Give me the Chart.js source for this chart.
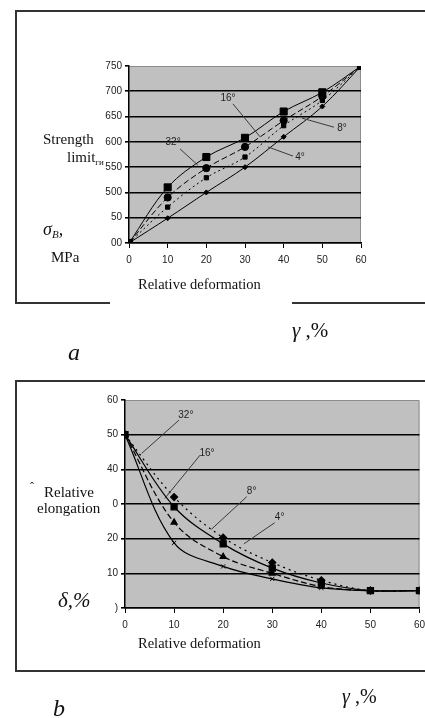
<!DOCTYPE html>
<html><head><meta charset="utf-8">
<script src="https://cdn.jsdelivr.net/npm/chart.js@4"></script>
<style>
body{margin:0;background:#fff;width:425px;height:718px;overflow:hidden;position:relative;font-family:"Liberation Serif",serif;color:#111}
.t{position:absolute;white-space:nowrap;line-height:1;z-index:3}
canvas{position:absolute;left:0;z-index:1}
.h{position:absolute;background:#333;height:1.5px;z-index:2}
.v{position:absolute;background:#333;width:1.5px;z-index:2}
</style></head><body>
<!-- frame a -->
<div class="h" style="left:15px;top:10px;width:410px"></div>
<div class="v" style="left:15px;top:10px;height:292px"></div>
<div class="h" style="left:15px;top:302px;width:95px"></div>
<div class="h" style="left:292px;top:302px;width:133px"></div>
<!-- frame b -->
<div class="h" style="left:15px;top:380px;width:410px"></div>
<div class="v" style="left:15px;top:380px;height:290px"></div>
<div class="h" style="left:15px;top:670px;width:410px"></div>

<canvas id="ca" width="425" height="360" style="top:0"></canvas>
<canvas id="cb" width="425" height="358" style="top:360px"></canvas>

<!-- texts a -->
<div class="t" style="left:43px;top:132px;font-size:15px">Strength</div>
<div class="t" style="left:67px;top:150px;font-size:15px">limit<span style="font-size:9px;position:relative;top:3px">ги</span></div>
<div class="t" style="left:43px;top:220px;font-size:18px;font-style:italic">σ<span style="font-size:11px;position:relative;top:3px">B</span>,</div>
<div class="t" style="left:51px;top:250px;font-size:15px">MPa</div>
<div class="t" style="left:138px;top:277px;font-size:14.5px">Relative deformation</div>
<div class="t" style="left:292px;top:320px;font-size:21px"><i>γ</i> ,%</div>
<div class="t" style="left:68px;top:340px;font-size:24px;font-style:italic">a</div>

<!-- texts b -->
<div class="t" style="left:30px;top:481px;font-size:12px">ˆ</div>
<div class="t" style="left:44px;top:485px;font-size:15px">Relative</div>
<div class="t" style="left:37px;top:501px;font-size:15px">elongation</div>
<div class="t" style="left:58px;top:590px;font-size:21px;font-style:italic">δ,%</div>
<div class="t" style="left:138px;top:636px;font-size:14.5px">Relative deformation</div>
<div class="t" style="left:342px;top:686px;font-size:20px"><i>γ</i> ,%</div>
<div class="t" style="left:53px;top:696px;font-size:24px;font-style:italic">b</div>

<script>
// ---------- data ----------
const deformation = [0, 10, 20, 30, 40, 50, 60];

// chart a : strength limit, MPa
const strength32 = [400, 510, 570, 608, 660, 698, 750];
const strength16 = [400, 490, 548, 590, 642, 690, 750];
const strength8  = [400, 471, 529, 570, 632, 682, 750];
const strength4  = [400, 449, 500, 550, 610, 670, 750];
const yTickValuesA = [400, 450, 500, 550, 600, 650, 700, 750];
const yTickLabelsA = ["00", "50", "500", "550", "600", "650", "700", "750"];

// chart b : relative elongation, %
const elong32 = [50, 32, 20.3, 13.1, 8, 5, 5];
const elong16 = [50, 29.2, 18.5, 11.5, 7.2, 5, 5];
const elong8  = [50, 24.7, 14.8, 10, 6.2, 5, 5];
const elong4  = [50, 18.8, 12, 8.4, 5.8, 5, 5];
const yTickValuesB = [0, 10, 20, 30, 40, 50, 60];
const yTickLabelsB = [")", "10", "20", "0", "40", "50", "60"];
const xTickLabels = ["0", "10", "20", "30", "40", "50", "60"];

// angle labels with leader lines (data coordinates)
const leadersA = [
  {text: "32°", at: [11.4, 600], from: [13.2, 586], to: [17.8, 554]},
  {text: "16°", at: [25.6, 686], from: [26.9, 675], to: [33.9, 610]},
  {text: "8°",  at: [55.1, 627], from: [53.0, 629], to: [44.7, 647]},
  {text: "4°",  at: [44.2, 570], from: [42.4, 572], to: [35.9, 590]}
];
const leadersB = [
  {text: "32°", at: [12.4, 55.6], from: [11.0, 54.2], to: [3.4, 44.6]},
  {text: "16°", at: [16.7, 44.7], from: [15.3, 44.1], to: [8.1, 31.6]},
  {text: "8°",  at: [25.8, 33.8], from: [24.8, 32.1], to: [17.6, 22.7]},
  {text: "4°",  at: [31.5, 26.2], from: [30.5, 24.6], to: [24.2, 18.5]}
];

// ---------- helpers ----------
const xy = ys => deformation.map((x, i) => ({x, y: ys[i]}));
Chart.defaults.font.family = '"Liberation Sans", Arial, sans-serif';
Chart.defaults.font.size = 10;
Chart.defaults.color = '#222';

const bgPlugin = {
  id: 'bgArea',
  beforeDraw(chart) {
    const {ctx, chartArea: a} = chart;
    ctx.save();
    ctx.fillStyle = '#c0c0c0';
    ctx.fillRect(a.left, a.top, a.right - a.left, a.bottom - a.top);
    ctx.strokeStyle = '#8c8c8c';
    ctx.lineWidth = 1;
    ctx.beginPath();
    ctx.moveTo(a.left, a.top + 0.5);
    ctx.lineTo(a.right - 0.5, a.top + 0.5);
    ctx.lineTo(a.right - 0.5, a.bottom);
    ctx.stroke();
    ctx.restore();
  }
};
const leaderPlugin = {
  id: 'leaders',
  afterDatasetsDraw(chart, args, opts) {
    const {ctx} = chart, x = chart.scales.x, y = chart.scales.y;
    ctx.save();
    ctx.strokeStyle = '#3a3a3a';
    ctx.lineWidth = 1;
    ctx.fillStyle = '#222';
    ctx.font = '10px "Liberation Sans", Arial, sans-serif';
    ctx.textAlign = 'center';
    ctx.textBaseline = 'middle';
    (opts.items || []).forEach(it => {
      ctx.beginPath();
      ctx.moveTo(x.getPixelForValue(it.from[0]), y.getPixelForValue(it.from[1]));
      ctx.lineTo(x.getPixelForValue(it.to[0]), y.getPixelForValue(it.to[1]));
      ctx.stroke();
      ctx.fillText(it.text, x.getPixelForValue(it.at[0]), y.getPixelForValue(it.at[1]));
    });
    ctx.restore();
  }
};

function makeChart(id, datasets, yMin, yMax, yStep, yVals, yLabels, yWidth, padding, leaders) {
  return new Chart(document.getElementById(id), {
    type: 'line',
    data: {datasets},
    options: {
      responsive: false, animation: false,
      layout: {padding},
      plugins: {legend: {display: false}, tooltip: {enabled: false}, leaders: {items: leaders}},
      scales: {
        x: {
          type: 'linear', min: 0, max: 60,
          afterFit(s) { s.height = 30; s.paddingLeft = 0; s.paddingRight = 0; },
          ticks: {stepSize: 10, padding: 6, maxRotation: 0,
            callback: (v) => { const i = deformation.indexOf(v); return i >= 0 ? xTickLabels[i] : ''; }},
          grid: {drawOnChartArea: false, drawTicks: true, tickLength: 5, tickColor: '#000', color: '#000'},
          border: {display: true, color: '#000', width: 1.5}
        },
        y: {
          type: 'linear', min: yMin, max: yMax,
          afterFit(s) { s.width = yWidth; },
          ticks: {stepSize: yStep, padding: 3,
            callback: (v) => { const i = yVals.indexOf(v); return i >= 0 ? yLabels[i] : ''; }},
          grid: {drawTicks: true, tickLength: 4, tickColor: '#000', lineWidth: 1.6,
            color: (c) => (c.tick && c.tick.value === yMax) ? 'rgba(0,0,0,0)' : '#000'},
          border: {display: true, color: '#000', width: 1.5}
        }
      }
    },
    plugins: [bgPlugin, leaderPlugin]
  });
}

const base = {borderColor: '#000', pointBackgroundColor: '#000', pointBorderColor: '#000', fill: false, tension: 0.35};

makeChart('ca', [
  {...base, label: '32°', data: xy(strength32), borderWidth: 1, pointStyle: 'rect', pointRadius: 5},
  {...base, label: '16°', data: xy(strength16), borderWidth: 1, borderDash: [6, 3], pointStyle: 'circle', pointRadius: 3.6},
  {...base, label: '8°',  data: xy(strength8),  borderWidth: 1, borderDash: [2, 3], pointStyle: 'rect', pointRadius: 3},
  {...base, label: '4°',  data: xy(strength4),  borderWidth: 1, pointStyle: 'rectRot', pointRadius: 2.5}
], 400, 750, 50, yTickValuesA, yTickLabelsA, 40,
  {left: 89, right: 64, top: 66, bottom: 87}, leadersA);

makeChart('cb', [
  {...base, label: '32°', data: xy(elong32), borderWidth: 1.2, borderDash: [2, 4], pointStyle: 'rectRot', pointRadius: 3.5},
  {...base, label: '16°', data: xy(elong16), borderWidth: 1.2, pointStyle: 'rect', pointRadius: 4.3},
  {...base, label: '8°',  data: xy(elong8),  borderWidth: 1.2, borderDash: [6, 3], pointStyle: 'triangle', pointRadius: 3.5},
  {...base, label: '4°',  data: xy(elong4),  borderWidth: 1.2, pointStyle: 'crossRot', pointRadius: 3, pointBorderWidth: 1}
], 0, 60, 10, yTickValuesB, yTickLabelsB, 40,
  {left: 85, right: 5, top: 40, bottom: 80}, leadersB);
</script>
</body></html>
